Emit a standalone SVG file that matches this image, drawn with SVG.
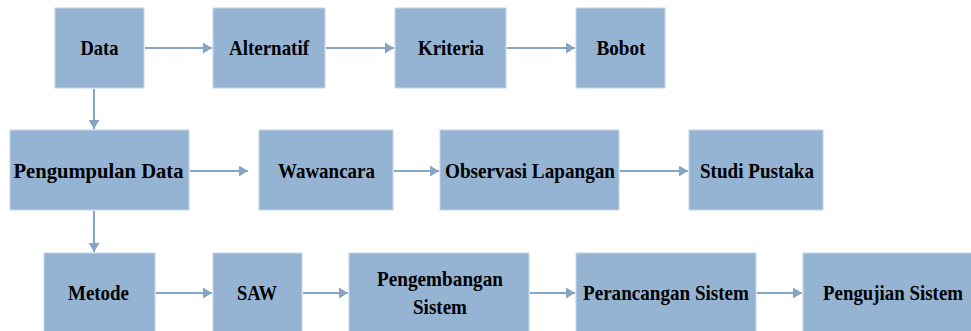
<svg xmlns="http://www.w3.org/2000/svg" width="971" height="331" viewBox="0 0 971 331">
<style>
.box{fill:#95B4D3;stroke:#C3D5E8;stroke-width:1}
.lbl{font-family:'Liberation Serif','DejaVu Serif',serif;font-weight:700;font-size:22px;fill:#000;text-anchor:middle}
.con{stroke:#86A4C4;stroke-width:2;fill:none;marker-end:url(#ah)}
</style>
<defs>
<marker id="ah" markerUnits="userSpaceOnUse" markerWidth="10" markerHeight="11" refX="9" refY="5.5" orient="auto">
<path d="M0,0 L9,5.5 L0,11 Z" fill="#86A4C4"/>
</marker>
</defs>
<rect width="971" height="331" fill="#fff"/>
<g id="connectors">
<line class="con" x1="145" y1="48" x2="212" y2="48"/>
<line class="con" x1="326" y1="48" x2="394" y2="48"/>
<line class="con" x1="507" y1="48" x2="575" y2="48"/>
<line class="con" x1="94" y1="89" x2="94" y2="129"/>
<line class="con" x1="190" y1="171" x2="248" y2="171"/>
<line class="con" x1="394" y1="171" x2="439" y2="171"/>
<line class="con" x1="620" y1="171" x2="688" y2="171"/>
<line class="con" x1="94" y1="211" x2="94" y2="252"/>
<line class="con" x1="156" y1="293" x2="212" y2="293"/>
<line class="con" x1="303" y1="293" x2="348" y2="293"/>
<line class="con" x1="530" y1="293" x2="575" y2="293"/>
<line class="con" x1="757" y1="293" x2="802" y2="293"/>
</g>
<g id="data"><rect class="box" x="55" y="8" width="89" height="80"/><text class="lbl" x="99.5" y="54.5" textLength="38" lengthAdjust="spacingAndGlyphs">Data</text></g>
<g id="alternatif"><rect class="box" x="213" y="8" width="112" height="80"/><text class="lbl" x="269" y="54.5" textLength="80" lengthAdjust="spacingAndGlyphs">Alternatif</text></g>
<g id="kriteria"><rect class="box" x="395" y="8" width="111" height="80"/><text class="lbl" x="451" y="54.5" textLength="66" lengthAdjust="spacingAndGlyphs">Kriteria</text></g>
<g id="bobot"><rect class="box" x="576" y="8" width="89" height="80"/><text class="lbl" x="621" y="54.5" textLength="49" lengthAdjust="spacingAndGlyphs">Bobot</text></g>
<g id="pengumpulan-data"><rect class="box" x="10" y="130" width="179" height="80"/><text class="lbl" x="98.5" y="178" textLength="170" lengthAdjust="spacingAndGlyphs">Pengumpulan Data</text></g>
<g id="wawancara"><rect class="box" x="259" y="130" width="134" height="80"/><text class="lbl" x="326.5" y="178" textLength="97" lengthAdjust="spacingAndGlyphs">Wawancara</text></g>
<g id="observasi-lapangan"><rect class="box" x="440" y="130" width="179" height="80"/><text class="lbl" x="530" y="178" textLength="170" lengthAdjust="spacingAndGlyphs">Observasi Lapangan</text></g>
<g id="studi-pustaka"><rect class="box" x="689" y="130" width="134" height="80"/><text class="lbl" x="757" y="178" textLength="114" lengthAdjust="spacingAndGlyphs">Studi Pustaka</text></g>
<g id="metode"><rect class="box" x="44" y="253" width="111" height="80"/><text class="lbl" x="98.5" y="300" textLength="61" lengthAdjust="spacingAndGlyphs">Metode</text></g>
<g id="saw"><rect class="box" x="213" y="253" width="89" height="80"/><text class="lbl" x="257" y="300" textLength="40" lengthAdjust="spacingAndGlyphs">SAW</text></g>
<g id="pengembangan-sistem"><rect class="box" x="349" y="253" width="180" height="80"/><text class="lbl" x="440" y="286" textLength="126" lengthAdjust="spacingAndGlyphs">Pengembangan</text><text class="lbl" x="440" y="314" textLength="54" lengthAdjust="spacingAndGlyphs">Sistem</text></g>
<g id="perancangan-sistem"><rect class="box" x="576" y="253" width="180" height="80"/><text class="lbl" x="666" y="300" textLength="166" lengthAdjust="spacingAndGlyphs">Perancangan Sistem</text></g>
<g id="pengujian-sistem"><rect class="box" x="803" y="253" width="180" height="80"/><text class="lbl" x="893" y="300" textLength="140" lengthAdjust="spacingAndGlyphs">Pengujian Sistem</text></g>
</svg>
